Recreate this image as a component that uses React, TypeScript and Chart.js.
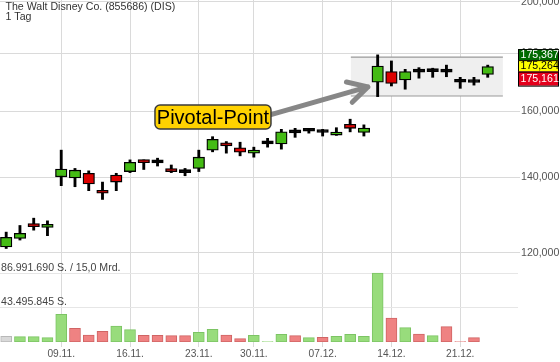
import React, { useEffect, useRef } from 'react';
import { Chart, registerables } from 'chart.js';

Chart.register(...registerables);

// ---------- data ----------
const dates = [
  '03.11.', '04.11.', '05.11.', '06.11.', '09.11.', '10.11.', '11.11.', '12.11.', '13.11.',
  '16.11.', '17.11.', '18.11.', '19.11.', '20.11.', '23.11.', '24.11.', '25.11.', '27.11.',
  '30.11.', '01.12.', '02.12.', '03.12.', '04.12.', '07.12.', '08.12.', '09.12.', '10.12.',
  '11.12.', '14.12.', '15.12.', '16.12.', '17.12.', '18.12.', '21.12.', '22.12.', '23.12.',
];
const open = [
  121.5, 123.6, 126.8, 126.4, 140.1, 139.8, 141.1, 136.1, 140.6,
  141.6, 144.4, 144.1, 142.3, 141.3, 142.5, 147.9, 150.0, 148.6,
  147.0, 149.8, 149.8, 153.2, 153.7, 153.3, 152.5, 155.9, 153.3,
  169.8, 173.5, 170.6, 173.3, 173.5, 173.3, 169.8, 169.7, 172.5,
];
const high = [
  125.2, 126.9, 128.8, 128.1, 147.9, 142.5, 141.8, 138.6, 141.1,
  145.0, 145.0, 145.5, 143.5, 142.5, 147.9, 152.0, 150.5, 150.3,
  148.8, 151.5, 154.3, 154.6, 154.6, 154.3, 154.8, 157.5, 155.7,
  179.5, 177.3, 174.3, 174.9, 174.7, 175.8, 171.5, 171.5, 175.8,
];
const low = [
  121.1, 123.2, 125.7, 124.3, 137.6, 137.3, 136.2, 133.8, 136.2,
  141.3, 142.2, 143.2, 141.3, 140.4, 141.6, 147.4, 147.0, 146.2,
  145.8, 148.8, 148.2, 151.8, 153.1, 152.2, 152.4, 153.5, 152.2,
  164.9, 168.5, 167.4, 171.2, 171.5, 171.7, 167.7, 168.8, 171.5,
];
const close = [
  123.9, 124.9, 126.6, 127.2, 142.3, 142.0, 138.1, 135.5, 138.6,
  144.3, 144.2, 144.1, 141.6, 141.3, 145.8, 151.2, 149.2, 147.3,
  147.9, 149.8, 153.5, 153.2, 153.7, 153.3, 153.4, 154.6, 154.7,
  175.5, 169.4, 173.5, 173.3, 173.5, 173.3, 169.8, 169.7, 175.264,
];
const volume = [
  7.2e6, 6.8e6, 6.8e6, 5.5e6, 34.9e6, 17.3e6, 8.8e6, 13.5e6, 20.2e6,
  15.6e6, 8.4e6, 8.4e6, 8.0e6, 8.0e6, 12.2e6, 16.0e6, 8.8e6, 4.3e6,
  8.4e6, 0.4e6, 9.7e6, 8.1e6, 5.5e6, 5.9e6, 7.2e6, 9.7e6, 7.2e6,
  86991690, 30.3e6, 18.2e6, 10.1e6, 8.0e6, 19.4e6, 0.4e6, 5.5e6, null,
];
const weekTicks = ['09.11.', '16.11.', '23.11.', '30.11.', '07.12.', '14.12.', '21.12.'];
const priceTicks = [120, 140, 160, 180, 200];
const quotes = [175.367, 175.264, 175.161];
const titleText = 'The Walt Disney Co. (855686) (DIS)';
const periodText = '1 Tag';
const turnoverText = '15,0 Mrd.';
const pivotText = 'Pivotal-Point';
const pivotBandPrice = [165.1, 178.7];
const pivotBandIndex = [25.05, 36.1];
const pivotLabelPos = [15.03, 158.2];
const pivotArrowFrom = [19.24, 159.0];
const pivotArrowTo = [26.29, 168.2];

// ---------- helpers ----------
const FONT = "'Liberation Sans', Arial, sans-serif";
const fmtPrice = (v: number) => v.toFixed(3).replace('.', ',');
const fmtVol = (n: number) => Math.round(n).toString().replace(/\B(?=(\d{3})+(?!\d))/g, '.');

const GREEN = '#44bb14';
const RED = '#dd0000';

const bodyColors = open.map((o, i) => (close[i] > o ? GREEN : close[i] < o ? RED : '#000'));
const volFill = volume.map((_, i) => {
  if (i === 0 || close[i] === close[i - 1]) return '#d9d9d9';
  return close[i] > close[i - 1] ? '#98dc7c' : '#ef8282';
});
const volBorder = volume.map((_, i) => {
  if (i === 0 || close[i] === close[i - 1]) return '#b8b8b8';
  return close[i] > close[i - 1] ? '#7cc464' : '#d06464';
});
const maxVol = Math.max(...(volume.filter((v) => v !== null) as number[]));

const overlayPlugin = {
  id: 'overlay',
  beforeDatasetsDraw(chart: any) {
    const { ctx, scales } = chart;
    const x = scales.x, y = scales.y;
    const x0 = x.getPixelForValue(pivotBandIndex[0]);
    const x1 = x.getPixelForValue(pivotBandIndex[1]);
    const yTop = y.getPixelForValue(pivotBandPrice[1]);
    const yBot = y.getPixelForValue(pivotBandPrice[0]);
    ctx.save();
    ctx.fillStyle = '#efefef';
    ctx.fillRect(x0, yTop, x1 - x0, yBot - yTop);
    ctx.strokeStyle = '#9a9a9a';
    ctx.lineWidth = 1.2;
    ctx.beginPath();
    ctx.moveTo(x0, yTop); ctx.lineTo(x1, yTop);
    ctx.moveTo(x0, yBot); ctx.lineTo(x1, yBot);
    ctx.stroke();
    ctx.restore();
  },
  afterDatasetsDraw(chart: any) {
    const { ctx, scales } = chart;
    const x = scales.x, y = scales.y;
    // arrow
    const sx = x.getPixelForValue(pivotArrowFrom[0]);
    const sy = y.getPixelForValue(pivotArrowFrom[1]);
    const ex = x.getPixelForValue(pivotArrowTo[0]);
    const ey = y.getPixelForValue(pivotArrowTo[1]);
    const ang = Math.atan2(ey - sy, ex - sx);
    const L = 22, a = 0.5;
    ctx.save();
    ctx.strokeStyle = '#878787';
    ctx.lineWidth = 5;
    ctx.lineCap = 'round';
    ctx.lineJoin = 'round';
    ctx.beginPath();
    ctx.moveTo(sx, sy); ctx.lineTo(ex, ey);
    ctx.moveTo(ex - L * Math.cos(ang - a), ey - L * Math.sin(ang - a));
    ctx.lineTo(ex, ey);
    ctx.lineTo(ex - L * Math.cos(ang + a), ey - L * Math.sin(ang + a));
    ctx.stroke();
    // label
    const cx = x.getPixelForValue(pivotLabelPos[0]);
    const cy = y.getPixelForValue(pivotLabelPos[1]);
    const w = 116, h = 24;
    ctx.beginPath();
    ctx.roundRect(cx - w / 2, cy - h / 2, w, h, 5);
    ctx.fillStyle = '#ffd200';
    ctx.fill();
    ctx.strokeStyle = '#3a3a3a';
    ctx.lineWidth = 1.5;
    ctx.stroke();
    ctx.fillStyle = '#000';
    ctx.font = `20px ${FONT}`;
    ctx.textAlign = 'center';
    ctx.textBaseline = 'middle';
    ctx.fillText(pivotText, cx, cy + 1);
    ctx.restore();
  },
  afterDraw(chart: any) {
    const { ctx, scales, chartArea } = chart;
    const y = scales.y, yv = scales.yv;
    ctx.save();
    // title
    ctx.fillStyle = '#333';
    ctx.font = `10.6px ${FONT}`;
    ctx.textAlign = 'left';
    ctx.textBaseline = 'alphabetic';
    ctx.fillText(titleText, 5.5, 10);
    ctx.fillText(periodText, 5.5, 20);
    // volume labels
    ctx.fillStyle = '#444';
    ctx.textBaseline = 'middle';
    ctx.fillText(`${fmtVol(maxVol)} S. / ${turnoverText}`, 1, yv.getPixelForValue(maxVol) - 5);
    ctx.fillText(`${fmtVol(maxVol / 2)} S.`, 1, yv.getPixelForValue(maxVol / 2) - 5.5);
    // quote boxes
    const py = y.getPixelForValue(quotes[1]);
    const bx = chartArea.right, bw = 41;
    const boxes = [
      { top: py - 17.5, bot: py - 6.5, fill: '#006a00', text: '#fff', v: quotes[0] },
      { top: py - 6.5, bot: py + 5, fill: '#ffff00', text: '#000', v: quotes[1] },
      { top: py + 5, bot: py + 19, fill: '#e4001c', text: '#fff', v: quotes[2] },
    ];
    boxes.forEach((b) => {
      ctx.fillStyle = b.fill;
      ctx.fillRect(bx, b.top, bw, b.bot - b.top);
      ctx.strokeStyle = '#000';
      ctx.lineWidth = 1;
      ctx.strokeRect(bx + 0.5, b.top + 0.5, bw - 1, b.bot - b.top);
      ctx.fillStyle = b.text;
      ctx.font = `10.6px ${FONT}`;
      ctx.textBaseline = 'middle';
      ctx.fillText(fmtPrice(b.v), bx + 2.5, (b.top + b.bot) / 2 + 0.5);
    });
    ctx.restore();
  },
};

export default function App() {
  const ref = useRef<HTMLCanvasElement>(null);
  useEffect(() => {
    document.body.style.margin = '0';
    document.body.style.background = '#fff';
    const idx = dates.map((_, i) => i);
    const chart = new Chart(ref.current as HTMLCanvasElement, {
      type: 'bar',
      data: {
        datasets: [
          {
            label: 'body',
            data: idx.map((i) => ({ x: i, y: [open[i], close[i]] })) as any,
            backgroundColor: bodyColors,
            borderColor: '#000',
            borderWidth: 1.3,
            borderSkipped: false,
            barThickness: 11.5,
            minBarLength: 3,
            grouped: false,
            yAxisID: 'y',
          } as any,
          {
            label: 'wick',
            data: idx.map((i) => ({ x: i, y: [low[i], high[i]] })) as any,
            backgroundColor: '#000',
            borderWidth: 0,
            barThickness: 2.2,
            grouped: false,
            yAxisID: 'y',
          } as any,
          {
            label: 'volume',
            data: idx.map((i) => ({ x: i, y: volume[i] })) as any,
            backgroundColor: volFill,
            borderColor: volBorder,
            borderWidth: 1,
            borderSkipped: false,
            barThickness: 11,
            grouped: false,
            yAxisID: 'yv',
          } as any,
        ],
      },
      options: {
        responsive: false,
        animation: false,
        devicePixelRatio: 1,
        events: [],
        layout: { padding: 0 },
        plugins: { legend: { display: false }, tooltip: { enabled: false }, title: { display: false } },
        scales: {
          x: {
            type: 'linear',
            min: -0.45,
            max: 37.2,
            bounds: 'data',
            offset: false,
            grid: { color: '#dadada', lineWidth: 1, tickLength: 5, offset: false, drawTicks: true },
            border: { display: false },
            ticks: {
              autoSkip: false,
              maxRotation: 0,
              padding: 1,
              color: '#555',
              font: { family: FONT, size: 10.2 },
              callback: (v: any) => dates[Math.round(v)] ?? '',
            },
            afterBuildTicks: (s: any) => {
              s.ticks = weekTicks.map((t) => ({ value: dates.indexOf(t) }));
            },
            afterFit: (s: any) => {
              s.height = 20;
              s.paddingLeft = 0;
              s.paddingRight = 0;
            },
          } as any,
          y: {
            type: 'logarithmic',
            position: 'right',
            min: 100.14,
            max: 200.68,
            bounds: 'data',
            grid: { color: '#dadada', lineWidth: 1, tickLength: 2, drawTicks: true },
            border: { display: false },
            ticks: {
              padding: 1,
              color: '#555',
              font: { family: FONT, size: 10.6 },
              callback: (v: any) => fmtPrice(Number(v)),
            },
            afterBuildTicks: (s: any) => {
              s.ticks = priceTicks.map((v) => ({ value: v }));
            },
            afterFit: (s: any) => {
              s.width = 42;
              s.paddingTop = 0;
              s.paddingBottom = 0;
            },
          } as any,
          yv: {
            type: 'linear',
            position: 'left',
            min: 0,
            max: 431.2e6,
            bounds: 'data',
            grid: { color: '#e6e6e6', lineWidth: 1, drawTicks: false },
            border: { display: false },
            ticks: { display: false },
            afterBuildTicks: (s: any) => {
              s.ticks = [{ value: maxVol / 2 }, { value: maxVol }];
            },
            afterFit: (s: any) => {
              s.width = 0;
              s.paddingTop = 0;
              s.paddingBottom = 0;
            },
          } as any,
        },
      },
      plugins: [overlayPlugin],
    });
    return () => chart.destroy();
  }, []);
  return (
    <div style={{ position: 'absolute', left: 0, top: 0, width: 560, height: 362, background: '#fff' }}>
      <canvas ref={ref} width={560} height={362} style={{ display: 'block', width: 560, height: 362 }} />
    </div>
  );
}
